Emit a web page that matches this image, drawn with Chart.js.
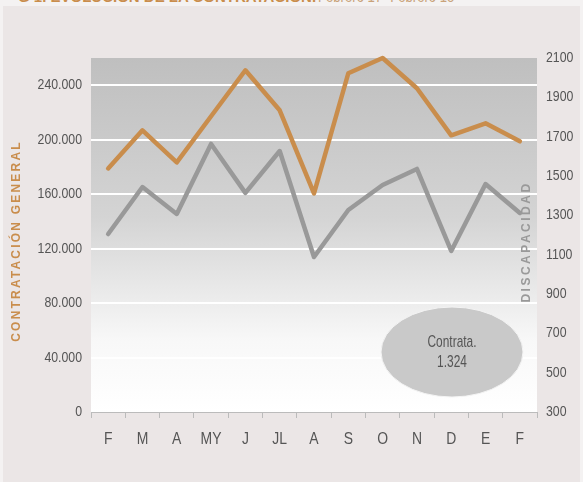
<!DOCTYPE html>
<html>
<head>
<meta charset="utf-8">
<script src="https://cdn.jsdelivr.net/npm/chart.js@4.4.0/dist/chart.umd.min.js"></script>
<style>
  body { margin: 0; background: #f4f2f2; width: 583px; height: 482px; overflow: hidden; }
  #panel { position: absolute; left: 3px; top: 6px; width: 577px; height: 476px; background: #ebe6e6; }
  #title { position: absolute; left: 0; top: 0; width: 583px; height: 6px; overflow: hidden; }
  #title span { position: absolute; top: -12px; white-space: nowrap; font-family: 'Liberation Sans', Arial, sans-serif; transform-origin: left top; }
  #title .t1 { left: 18px; font-weight: bold; font-size: 15px; color: #c98d4c; }
  #title .t2 { left: 318px; font-size: 16px; color: #c9a27a; transform: scaleX(0.82); }
  #wrap { position: absolute; left: 0; top: 0; width: 583px; height: 482px; }
</style>
</head>
<body>
<div id="panel"></div>
<div id="title"><span class="t1">G 1. EVOLUCIÓN DE LA CONTRATACIÓN.</span><span class="t2">Febrero 17- Febrero 18</span></div>
<div id="wrap"><canvas id="chart" width="583" height="482"></canvas></div>
<script>
var meses = ['F', 'M', 'A', 'MY', 'J', 'JL', 'A', 'S', 'O', 'N', 'D', 'E', 'F'];
var contratacionGeneral = [178900, 206900, 183300, 217200, 251000, 221600, 160500, 248800, 260000, 237800, 203200, 212000, 198800];
var discapacidad = [1205, 1444, 1307, 1663, 1414, 1627, 1088, 1327, 1454, 1536, 1119, 1459, 1312];
var ticksIzq = [0, 40000, 80000, 120000, 160000, 200000, 240000];
var ticksDer = [300, 500, 700, 900, 1100, 1300, 1500, 1700, 1900, 2100];
var nota = ['Contrata.', '1.324'];

var fam = "'Liberation Sans', Arial, sans-serif";
var hidden = 'rgba(0,0,0,0)';

// texto estrecho (tipo Arial Narrow) escalando en horizontal
function textoEstrecho(ctx, txt, x, y, align, k) {
    ctx.save();
    ctx.translate(x, y);
    ctx.scale(k || 0.82, 1);
    ctx.textAlign = align;
    ctx.fillText(txt, 0, 0);
    ctx.restore();
}

var fondoPlugin = {
    id: 'fondo',
    beforeDraw: function (chart) {
        var ctx = chart.ctx, a = chart.chartArea;
        var g = ctx.createLinearGradient(0, a.top, 0, a.bottom);
        g.addColorStop(0, '#bfbfbf');
        g.addColorStop(0.45, '#d4d4d4');
        g.addColorStop(0.8, '#f8f8f8');
        g.addColorStop(1, '#ffffff');
        ctx.save();
        ctx.fillStyle = g;
        ctx.fillRect(a.left, a.top, a.right - a.left, a.bottom - a.top);
        ctx.restore();
    },
    afterDatasetsDraw: function (chart) {
        var ctx = chart.ctx, a = chart.chartArea;
        var sx = chart.scales.x, sy = chart.scales.y, sy1 = chart.scales.y1;

        // etiquetas de los ejes
        ctx.save();
        ctx.font = '15px ' + fam;
        ctx.fillStyle = '#555';
        ctx.textBaseline = 'middle';
        sy.ticks.forEach(function (t) {
            textoEstrecho(ctx, t.label, a.left - 9, sy.getPixelForValue(t.value), 'right');
        });
        sy1.ticks.forEach(function (t) {
            textoEstrecho(ctx, t.label, a.right + 9, sy1.getPixelForValue(t.value), 'left');
        });
        ctx.font = '17px ' + fam;
        sx.ticks.forEach(function (t, i) {
            textoEstrecho(ctx, sx.getLabelForValue(t.value), sx.getPixelForTick(i), a.bottom + 27, 'center');
        });
        ctx.restore();

        // elipse
        ctx.save();
        var cx = a.left + 361, cy = a.top + 294;
        ctx.beginPath();
        ctx.ellipse(cx, cy, 71, 45, 0, 0, Math.PI * 2);
        ctx.fillStyle = '#c9c9c9';
        ctx.fill();
        ctx.lineWidth = 1;
        ctx.strokeStyle = '#f4f4f4';
        ctx.stroke();
        ctx.fillStyle = '#555';
        ctx.font = '17px ' + fam;
        ctx.textBaseline = 'middle';
        textoEstrecho(ctx, nota[0], cx, cy - 10, 'center', 0.7);
        textoEstrecho(ctx, nota[1], cx, cy + 10, 'center', 0.7);
        ctx.restore();

        // titulo eje derecho
        ctx.save();
        ctx.translate(a.right - 10, a.top + 184);
        ctx.rotate(-Math.PI / 2);
        ctx.font = 'bold 12px ' + fam;
        ctx.letterSpacing = '2.5px';
        ctx.fillStyle = '#999';
        ctx.textAlign = 'center';
        ctx.textBaseline = 'middle';
        ctx.fillText('DISCAPACIDAD', 0, 0);
        ctx.restore();

        // titulo eje izquierdo
        ctx.save();
        ctx.translate(17, 241);
        ctx.rotate(-Math.PI / 2);
        ctx.font = 'bold 12px ' + fam;
        ctx.letterSpacing = '2.2px';
        ctx.fillStyle = '#c98d4c';
        ctx.textAlign = 'center';
        ctx.textBaseline = 'middle';
        ctx.fillText('CONTRATACIÓN GENERAL', 0, 0);
        ctx.restore();
    }
};

var ctx = document.getElementById('chart').getContext('2d');
var MyChart = new Chart(ctx, {
    type: 'line',
    data: {
        labels: meses,
        datasets: [{
            label: 'Contratación general',
            data: contratacionGeneral,
            yAxisID: 'y',
            borderColor: '#c98d4c',
            borderWidth: 4.5,
            pointRadius: 0,
            tension: 0,
            borderCapStyle: 'round',
            borderJoinStyle: 'round'
        }, {
            label: 'Discapacidad',
            data: discapacidad,
            yAxisID: 'y1',
            borderColor: '#999999',
            borderWidth: 4.5,
            pointRadius: 0,
            tension: 0,
            borderCapStyle: 'round',
            borderJoinStyle: 'round'
        }]
    },
    options: {
        responsive: false,
        animation: false,
        clip: false,
        layout: { padding: { top: 58, left: 0, right: 0, bottom: 0 } },
        plugins: { legend: { display: false }, tooltip: { enabled: false } },
        scales: {
            x: {
                offset: true,
                grid: { offset: true, drawOnChartArea: false, color: '#bbb', tickLength: 6 },
                border: { color: '#bbb', width: 1 },
                ticks: { color: hidden, maxRotation: 0, autoSkip: false },
                afterFit: function (s) { s.height = 70; }
            },
            y: {
                position: 'left',
                min: 0,
                max: 260000,
                afterBuildTicks: function (s) {
                    s.ticks = ticksIzq.map(function (v) { return { value: v }; });
                },
                grid: {
                    color: function (c) { return c.tick && c.tick.value === 0 ? hidden : '#ffffff'; },
                    lineWidth: 2,
                    drawTicks: false
                },
                border: { display: false },
                ticks: {
                    color: hidden,
                    callback: function (v) { return v.toLocaleString('de-DE'); }
                },
                afterFit: function (s) { s.width = 91; }
            },
            y1: {
                position: 'right',
                min: 300,
                max: 2100,
                afterBuildTicks: function (s) {
                    s.ticks = ticksDer.map(function (v) { return { value: v }; });
                },
                grid: { display: false },
                border: { display: false },
                ticks: {
                    color: hidden,
                    callback: function (v) { return String(v); }
                },
                afterFit: function (s) { s.width = 46; }
            }
        }
    },
    plugins: [fondoPlugin]
});
</script>
</body>
</html>
